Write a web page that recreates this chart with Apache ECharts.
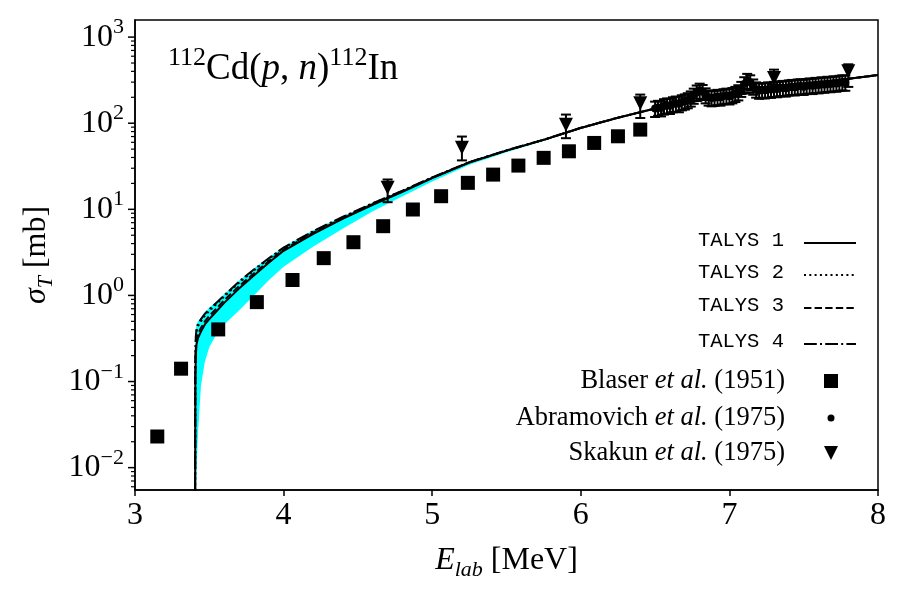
<!DOCTYPE html>
<html>
<head>
<meta charset="utf-8">
<title>112Cd(p,n)112In</title>
<script src="https://cdn.jsdelivr.net/npm/echarts@6/dist/echarts.min.js"></script>
<style>
  html, body { margin: 0; padding: 0; background: #fff; }
  #main { width: 900px; height: 600px; }
</style>
</head>
<body>
<div id="main"></div>
<script>
// ---- data ----
var curveE = [3.404, 3.406, 3.409, 3.414, 3.424, 3.444, 3.47, 3.5, 3.55, 3.6, 3.7, 3.8, 3.9, 4.0,
  4.2, 4.4, 4.6, 4.8, 5.0, 5.25, 5.5, 5.75, 6.0, 6.25, 6.5, 6.75, 7.0, 7.25, 7.5, 7.75, 8.0];
var talys1 = [0.001, 0.1, 0.2, 0.27, 0.32, 0.38, 0.46, 0.53, 0.66, 0.82, 1.2, 1.7, 2.4, 3.3,
  5.2, 7.8, 11.3, 16, 23, 35, 48, 64, 88, 116, 148, 178, 208, 240, 278, 320, 362];
var talys2 = [0.001, 0.15, 0.3, 0.38, 0.44, 0.5, 0.58, 0.66, 0.8, 0.97, 1.4, 1.95, 2.65, 3.55,
  5.5, 8.1, 11.7, 16.4, 23.4, 35.3, 48.3, 64.3, 88.3, 116, 148, 178, 208, 240, 278, 320, 362];
var talys3 = [0.001, 0.12, 0.24, 0.31, 0.36, 0.42, 0.5, 0.58, 0.71, 0.88, 1.28, 1.8, 2.5, 3.4,
  5.35, 7.9, 11.5, 16.2, 23.2, 35.2, 48.2, 64.2, 88.2, 116, 148, 178, 208, 240, 278, 320, 362];
var talys4 = [0.001, 0.18, 0.33, 0.41, 0.47, 0.53, 0.61, 0.69, 0.83, 1.0, 1.45, 2.0, 2.7, 3.6,
  5.6, 8.2, 11.8, 16.5, 23.5, 35.4, 48.4, 64.4, 88.4, 116.2, 148.2, 178, 208, 240, 278, 320, 362];
var bandLo = [0.001, 0.002, 0.004, 0.009, 0.025, 0.09, 0.17, 0.25, 0.36, 0.46, 0.67, 1.0, 1.5, 2.15,
  3.7, 6.0, 9.5, 14.2, 21, 33, 46, 62, 86, 114, 146, 176, 206, 238, 276, 317, 358];
var bandHi = [0.001, 0.3, 0.4, 0.46, 0.5, 0.55, 0.64, 0.72, 0.86, 1.03, 1.48, 2.05, 2.75, 3.65,
  5.7, 8.3, 11.9, 16.6, 23.7, 35.6, 48.6, 64.6, 88.6, 116.5, 148.5, 178.5, 208.5, 240.5, 278.5, 320.5, 362.5];

var blaserE = [3.15, 3.31, 3.56, 3.82, 4.06, 4.27, 4.47, 4.67, 4.87, 5.06, 5.24, 5.41, 5.58, 5.75, 5.92, 6.09, 6.25, 6.40];
var blaserV = [0.023, 0.141, 0.403, 0.836, 1.51, 2.71, 4.15, 6.37, 9.95, 14.2, 20.3, 25.3, 32.2, 39.6, 47.2, 59.0, 70.5, 84.3];

var abramE = [6.50, 6.52, 6.54, 6.56, 6.58, 6.60, 6.62, 6.64, 6.66, 6.68, 6.70, 6.72, 6.74, 6.76, 6.78,
  6.80, 6.82, 6.84, 6.86, 6.88, 6.90, 6.92, 6.94, 6.96, 6.98, 7.00, 7.02, 7.04, 7.06, 7.08,
  7.10, 7.12, 7.14, 7.16, 7.18, 7.20, 7.22, 7.24, 7.26, 7.28, 7.30, 7.32, 7.34, 7.36, 7.38,
  7.40, 7.42, 7.44, 7.46, 7.48, 7.50, 7.52, 7.54, 7.56, 7.58, 7.60, 7.62, 7.64, 7.66, 7.68,
  7.70, 7.72, 7.74, 7.76, 7.78];
var abramV = [148, 152, 150, 158, 162, 160, 167, 170, 168, 176, 180, 186, 195, 210, 228,
  240, 232, 212, 200, 196, 199, 203, 200, 207, 210, 206, 213, 220, 230, 252,
  285, 312, 300, 268, 248, 240, 244, 242, 248, 246, 252, 250, 256, 258, 255,
  262, 265, 262, 268, 270, 266, 272, 276, 273, 280, 278, 284, 282, 288, 286,
  292, 290, 296, 300, 298];
var abramErr = [30, 30, 30, 32, 32, 32, 33, 34, 34, 35, 36, 37, 39, 42, 46,
  48, 46, 42, 40, 39, 40, 41, 40, 41, 42, 41, 43, 44, 46, 50,
  57, 62, 60, 54, 50, 48, 49, 48, 50, 49, 50, 50, 51, 52, 51,
  52, 53, 52, 54, 54, 53, 54, 55, 55, 56, 56, 57, 56, 58, 57,
  58, 58, 59, 60, 60];

var skakunE = [4.70, 5.20, 5.90, 6.40, 7.30, 7.80];
var skakunV = [17.8, 52, 96, 170, 335, 400];
var skakunLo = [12.1, 37, 67, 115, 280, 264];
var skakunHi = [22.2, 70, 126, 215, 419, 483];

var yTicks = [0.01, 0.1, 1, 10, 100, 1000];
var yMin = 0.0055, yMax = 1580;

// minor log ticks 2..9 x 10^k inside the axis range
var yMinor = [];
for (var k = -3; k <= 3; k++) {
  for (var m = 2; m <= 9; m++) {
    var mv = m * Math.pow(10, k);
    if (mv > yMin && mv < yMax) yMinor.push(mv);
  }
}

// ---- helpers ----
function zip(xs, ys) {
  return xs.map(function (x, i) { return [x, ys[i]]; });
}
var SERIF = "'Liberation Serif', 'DejaVu Serif', serif";
var MONO = "'Liberation Mono', 'DejaVu Sans Mono', monospace";

function richSet(size) {
  var small = Math.round(size * 0.7);
  return {
    n: { fontFamily: SERIF, fontSize: size, fontWeight: 'normal', color: '#000', lineHeight: size * 1.3 },
    it: { fontFamily: SERIF, fontSize: size, fontWeight: 'normal', fontStyle: 'italic', color: '#000', lineHeight: size * 1.3 },
    sup: { fontFamily: SERIF, fontSize: small, fontWeight: 'normal', color: '#000', verticalAlign: 'top', lineHeight: small },
    sub: { fontFamily: SERIF, fontSize: small, fontWeight: 'normal', fontStyle: 'italic', color: '#000', verticalAlign: 'bottom', lineHeight: small }
  };
}

function errorBars(cap, width) {
  return function (params, api) {
    var x = api.value(0);
    var lo = api.coord([x, api.value(1)]);
    var hi = api.coord([x, api.value(2)]);
    var st = { stroke: '#000', lineWidth: width };
    return {
      type: 'group',
      children: [
        { type: 'line', shape: { x1: lo[0], y1: lo[1], x2: hi[0], y2: hi[1] }, style: st },
        { type: 'line', shape: { x1: lo[0] - cap, y1: lo[1], x2: lo[0] + cap, y2: lo[1] }, style: st },
        { type: 'line', shape: { x1: hi[0] - cap, y1: hi[1], x2: hi[0] + cap, y2: hi[1] }, style: st }
      ]
    };
  };
}

// y-axis ticks drawn outside the left edge, positioned through the log axis
function yTickSeries(values, len, width) {
  return {
    type: 'custom',
    silent: true,
    clip: false,
    z: 10,
    data: values.map(function (v) { return [3, v]; }),
    encode: { x: 0, y: 1 },
    renderItem: function (params, api) {
      var p = api.coord([api.value(0), api.value(1)]);
      return {
        type: 'rect',
        shape: { x: p[0] - len, y: p[1] - width / 2, width: len, height: width },
        style: { fill: '#000' }
      };
    }
  };
}

// legend rows: w/h = icon box, gap = space between text and icon
var legendRows = [
  { name: 'TALYS 1', y: 243, w: 52, h: 14, right: 43, gap: 20 },
  { name: 'TALYS 2', y: 275, w: 52, h: 14, right: 43, gap: 20 },
  { name: 'TALYS 3', y: 308, w: 52, h: 14, right: 43, gap: 20 },
  { name: 'TALYS 4', y: 344, w: 52, h: 14, right: 43, gap: 20 },
  { name: 'Blaser', y: 381, w: 14, h: 14, right: 62, gap: 39, label: '{n|Blaser }{it|et al.}{n| (1951)}' },
  { name: 'Abramovich', y: 418, w: 7, h: 7, right: 65.5, gap: 42.5, label: '{n|Abramovich }{it|et al.}{n| (1975)}' },
  { name: 'Skakun', y: 453, w: 14, h: 14, right: 62, gap: 39, label: '{n|Skakun }{it|et al.}{n| (1975)}',
    icon: 'path://M0,0L10,0L5,10Z' }
];

var legendRich = {
  m: { fontFamily: MONO, fontSize: 20.5, color: '#000' },
  n: { fontFamily: SERIF, fontSize: 26.5, color: '#000' },
  it: { fontFamily: SERIF, fontSize: 26.5, fontStyle: 'italic', color: '#000' }
};

var legends = legendRows.map(function (r) {
  var item = r.icon ? { name: r.name, icon: r.icon } : r.name;
  return {
    data: [item],
    right: r.right,
    top: r.y - 13,
    align: 'right',
    padding: 0,
    itemWidth: r.w,
    itemHeight: r.h,
    selectedMode: false,
    itemStyle: r.label ? { color: '#000', opacity: 1 } : { opacity: 0 },
    formatter: function () { return r.label || ('{m|' + r.name + '}'); },
    textStyle: { padding: [0, r.gap - 5, 0, 0], height: 26, rich: legendRich }
  };
});

function talysSeries(name, values, dash) {
  return {
    name: name,
    type: 'line',
    data: zip(curveE, values),
    symbol: 'none',
    showSymbol: false,
    clip: true,
    z: 3,
    lineStyle: { color: '#000', width: 2, type: dash },
    itemStyle: { color: '#000' }
  };
}

var chart = echarts.init(document.getElementById('main'));
chart.setOption({
  animation: false,
  backgroundColor: '#fff',
  title: {
    text: '{sup|112}{n|Cd(}{it|p}{n|, }{it|n}{n|)}{sup|112}{n|In}',
    left: 163,
    top: 40,
    textStyle: { fontWeight: 'normal', rich: richSet(37) }
  },
  legend: legends,
  grid: {
    left: 135, right: 22, top: 20, bottom: 110,
    show: true, borderColor: '#000', borderWidth: 1.5
  },
  xAxis: {
    type: 'value',
    min: 3, max: 8, interval: 1,
    splitLine: { show: false },
    axisLine: { lineStyle: { color: '#000', width: 1.5 } },
    axisTick: { inside: false, length: 6, lineStyle: { color: '#000', width: 1.5 } },
    axisLabel: { color: '#000', fontFamily: SERIF, fontSize: 32, margin: 10 },
    name: '{it|E}{sub|lab}{n| [MeV]}',
    nameLocation: 'middle',
    nameGap: 50,
    nameTextStyle: { rich: richSet(32) }
  },
  yAxis: {
    type: 'log',
    logBase: 10,
    min: yMin,
    max: yMax,
    splitLine: { show: false },
    axisLine: { lineStyle: { color: '#000', width: 1.5 } },
    axisTick: { show: false },
    minorTick: { show: false },
    axisLabel: {
      customValues: yTicks,
      margin: 11,
      formatter: function (v) {
        var e = Math.round(Math.log(v) / Math.LN10);
        return '{n|10}{sup|' + (e < 0 ? '\u2212' + (-e) : e) + '}';
      },
      rich: richSet(32)
    },
    name: '{it|\u03c3}{sub|T}{n| [mb]}',
    nameLocation: 'middle',
    nameGap: 77,
    nameTextStyle: { rich: richSet(32) }
  },
  series: [
    {
      name: 'band',
      type: 'custom',
      silent: true,
      clip: true,
      z: 1,
      data: curveE.map(function (e, i) { return [e, bandLo[i], bandHi[i]]; }),
      encode: { x: 0, y: [1, 2] },
      renderItem: function (params, api) {
        if (params.dataIndex !== 0) return null;
        var pts = [];
        for (var i = 0; i < curveE.length; i++) pts.push(api.coord([curveE[i], bandHi[i]]));
        for (var j = curveE.length - 1; j >= 0; j--) pts.push(api.coord([curveE[j], bandLo[j]]));
        return { type: 'polygon', shape: { points: pts }, style: { fill: '#00ffff' } };
      }
    },
    yTickSeries(yTicks, 7, 1.5),
    yTickSeries(yMinor, 4, 1.2),
    talysSeries('TALYS 1', talys1, 'solid'),
    talysSeries('TALYS 2', talys2, [2, 3.3]),
    talysSeries('TALYS 3', talys3, [7.4, 3.2]),
    talysSeries('TALYS 4', talys4, [12.8, 3.2, 2, 3.2]),
    {
      name: 'Blaser',
      type: 'scatter',
      symbol: 'rect',
      symbolSize: 14,
      z: 5,
      itemStyle: { color: '#000', opacity: 1 },
      data: zip(blaserE, blaserV)
    },
    {
      name: 'Abramovich',
      type: 'scatter',
      symbol: 'circle',
      symbolSize: 8,
      z: 5,
      itemStyle: { color: '#000', opacity: 1 },
      data: zip(abramE, abramV)
    },
    {
      name: 'abramErr',
      type: 'custom',
      z: 5,
      clip: true,
      data: abramE.map(function (e, i) { return [e, abramV[i] - abramErr[i], abramV[i] + abramErr[i]]; }),
      encode: { x: 0, y: [1, 2] },
      renderItem: errorBars(5, 2)
    },
    {
      name: 'Skakun',
      type: 'scatter',
      symbol: 'triangle',
      symbolRotate: 180,
      symbolSize: 14,
      z: 6,
      itemStyle: { color: '#000', opacity: 1 },
      data: zip(skakunE, skakunV)
    },
    {
      name: 'skakunErr',
      type: 'custom',
      z: 6,
      clip: true,
      data: skakunE.map(function (e, i) { return [e, skakunLo[i], skakunHi[i]]; }),
      encode: { x: 0, y: [1, 2] },
      renderItem: errorBars(5, 2)
    }
  ]
});
</script>
</body>
</html>
